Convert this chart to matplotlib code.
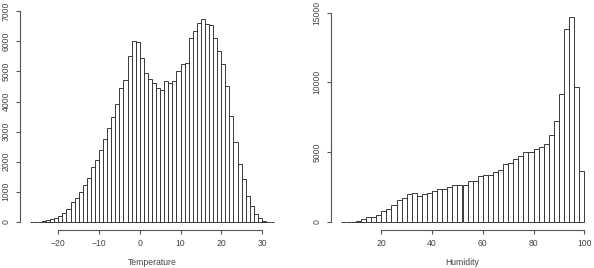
import numpy as np
import matplotlib
matplotlib.use("Agg")
import matplotlib.pyplot as plt

plt.rcParams['font.family'] = ['Liberation Sans', 'DejaVu Sans']

# Température : bins de 1 degré, de -27 à 33
temp_edges = np.arange(-27, 34, 1)
temp_counts = [0, 0, 3, 30, 55, 80, 140, 190, 310, 420, 650, 800, 1000, 1220,
               1470, 1820, 2070, 2380, 2750, 3120, 3490, 3910, 4460, 4730, 5510,
               6010, 5970, 5440, 4960, 4760, 4620, 4440, 4390, 4680, 4620, 4670,
               5010, 5250, 5290, 6110, 6340, 6610, 6740, 6590, 6540, 6110, 5680,
               5250, 4530, 3520, 2650, 1910, 1410, 865, 515, 270, 115, 35, 8, 0]
temp_xticks = [-20, -10, 0, 10, 20, 30]
temp_yticks = [0, 1000, 2000, 3000, 4000, 5000, 6000, 7000]

# Humidité : bins de 2 %, de 4 à 100
hum_edges = np.arange(4, 102, 2)
hum_counts = [0, 0, 0, 70, 170, 310, 360, 500, 745, 940, 1230, 1560, 1700, 2000,
              2090, 1850, 1970, 2090, 2190, 2330, 2330, 2500, 2620, 2670, 2670,
              2960, 2960, 3250, 3340, 3340, 3560, 3740, 4140, 4200, 4490, 4720,
              5000, 5000, 5230, 5380, 5560, 6210, 7200, 9140, 13830, 14670,
              9640, 3610]
hum_xticks = [20, 40, 60, 80, 100]
hum_yticks = [0, 5000, 10000, 15000]

W, H = 594, 268
fig = plt.figure(figsize=(W / 100, H / 100), dpi=100)

ink = '#3a3a3a'
txt = '#444444'


def r_hist(rect, edges, counts, xticks, yticks, xlabel):
    l, t, r, b = rect
    ax = fig.add_axes([l / W, 1 - b / H, (r - l) / W, (b - t) / H])
    ax.bar(edges[:-1], counts, width=np.diff(edges), align='edge',
           fill=False, edgecolor=ink, linewidth=0.7)
    # style R : marge de 4 %
    x0, x1 = edges[0], edges[-1]
    dx = (x1 - x0) * 0.04
    ymax = max(counts)
    dy = ymax * 0.04
    ax.set_xlim(x0 - dx, x1 + dx)
    ax.set_ylim(-dy, ymax + dy)
    for s in ['top', 'right']:
        ax.spines[s].set_visible(False)
    ax.spines['left'].set_bounds(yticks[0], yticks[-1])
    ax.spines['bottom'].set_bounds(xticks[0], xticks[-1])
    for s in ['left', 'bottom']:
        ax.spines[s].set_color('#555555')
        ax.spines[s].set_linewidth(0.8)
    ax.set_xticks(xticks)
    ax.set_yticks(yticks)
    ax.set_yticklabels([str(v) for v in yticks], rotation=90, va='center')
    ax.tick_params(length=3.2, width=0.8, color='#555555', labelcolor=txt,
                   labelsize=6.2, pad=3.5)
    ax.set_xlabel(xlabel, fontsize=6.2, color=txt, labelpad=7)
    ax.patch.set_visible(False)
    return ax


r_hist((20, 11, 284, 230), temp_edges, temp_counts, temp_xticks, temp_yticks, "Temperature")
r_hist((331, 9, 594, 230), hum_edges, hum_counts, hum_xticks, hum_yticks, "Humidity")

plt.savefig("out.png", dpi=100)
